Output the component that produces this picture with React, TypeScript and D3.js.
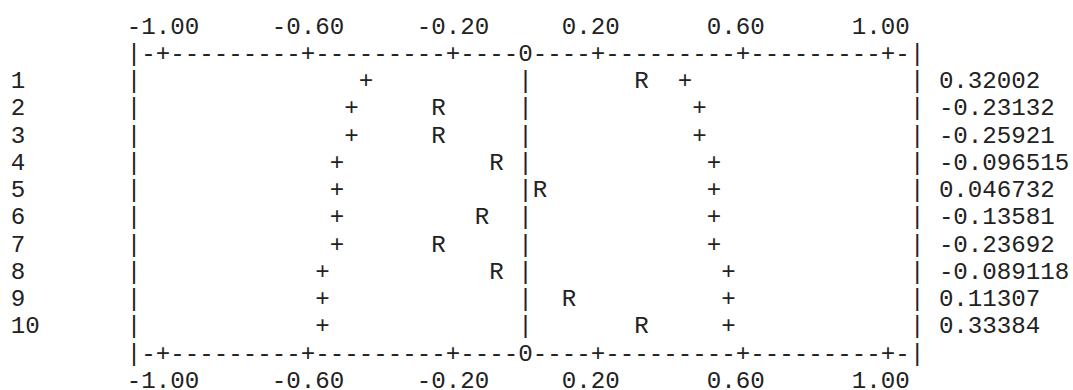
import React from "react";
import * as d3 from "d3";

// ---- data ----
const lags = ["1", "2", "3", "4", "5", "6", "7", "8", "9", "10"];
const acfValues = [0.32002, -0.23132, -0.25921, -0.096515, 0.046732, -0.13581, -0.23692, -0.089118, 0.11307, 0.33384];
const limitValues = [0.43, 0.47, 0.49, 0.51, 0.52, 0.52, 0.52, 0.545, 0.55, 0.55];
const tickValues = [-1.0, -0.6, -0.2, 0.2, 0.6, 1.0];

// ---- layout ----
const W = 1073;
const H = 390;
const FONT_SIZE = 24.17;
const CW = FONT_SIZE * 0.6; // monospace advance
const X0 = 10.75;
const BASE0 = 33.5;
const LINE_H = 27.25;

const LEFT_COL = 8;
const RIGHT_COL = 62;
const VALUE_COL = 64;

const locale = d3.formatLocale({ decimal: ".", thousands: ",", grouping: [3], currency: ["$", ""], minus: "-" });
const fmtTick = locale.format(".2f");
const fmtVal = locale.format(".5");

export default function App() {
  // value -> column (character grid), column -> pixel
  const colScale = d3.scaleLinear().domain([-1, 1]).range([10, 60]);
  const toCol = (v: number) => Math.round(colScale(v));
  const colPx = d3.scaleLinear().domain([0, 1]).range([X0 + CW / 2, X0 + CW * 1.5]);
  const colLeft = (c: number) => X0 + c * CW;
  const lineY = d3.scaleLinear().domain([0, 1]).range([BASE0, BASE0 + LINE_H]);

  const zeroCol = toCol(0);
  const tickCols = tickValues.map(toCol);

  const axisChars: { c: number; ch: string }[] = [];
  for (let c = LEFT_COL; c <= RIGHT_COL; c++) {
    let ch = "-";
    if (c === LEFT_COL || c === RIGHT_COL) ch = "|";
    else if (c === zeroCol) ch = "0";
    else if (tickCols.includes(c)) ch = "+";
    axisChars.push({ c, ch });
  }

  const textStyle = {
    fontFamily: "'Courier New', 'Liberation Mono', monospace",
    fontSize: FONT_SIZE,
    fill: "#222",
  } as React.CSSProperties;

  const renderAxis = (line: number, key: string) => (
    <g key={key}>
      {axisChars.map((d) => (
        <text key={d.c} x={colPx(d.c)} y={lineY(line)} textAnchor="middle" style={textStyle}>
          {d.ch}
        </text>
      ))}
    </g>
  );

  const renderTickLabels = (line: number, key: string) => (
    <g key={key}>
      {tickValues.map((t) => (
        <text key={t} x={colLeft(toCol(t) - 2)} y={lineY(line)} style={textStyle}>
          {fmtTick(t)}
        </text>
      ))}
    </g>
  );

  return (
    <svg
      width={W}
      height={H}
      style={{ position: "fixed", left: 0, top: 0, display: "block", background: "#fff" }}
    >
      <rect width={W} height={H} fill="#fff" />
      {renderTickLabels(0, "top-labels")}
      {renderAxis(1, "top-axis")}
      {lags.map((lag, i) => {
        const line = i + 2;
        const y = lineY(line);
        const lim = limitValues[i];
        const marks: { c: number; ch: string }[] = [
          { c: LEFT_COL, ch: "|" },
          { c: zeroCol, ch: "|" },
          { c: RIGHT_COL, ch: "|" },
          { c: toCol(-lim), ch: "+" },
          { c: toCol(lim), ch: "+" },
          { c: toCol(acfValues[i]), ch: "R" },
        ];
        return (
          <g key={lag}>
            <text x={colLeft(0)} y={y} style={textStyle}>
              {lag}
            </text>
            {marks.map((m, j) => (
              <text key={j} x={colPx(m.c)} y={y} textAnchor="middle" style={textStyle}>
                {m.ch}
              </text>
            ))}
            <text x={colLeft(VALUE_COL)} y={y} style={textStyle}>
              {fmtVal(acfValues[i])}
            </text>
          </g>
        );
      })}
      {renderAxis(12, "bottom-axis")}
      {renderTickLabels(13, "bottom-labels")}
    </svg>
  );
}
